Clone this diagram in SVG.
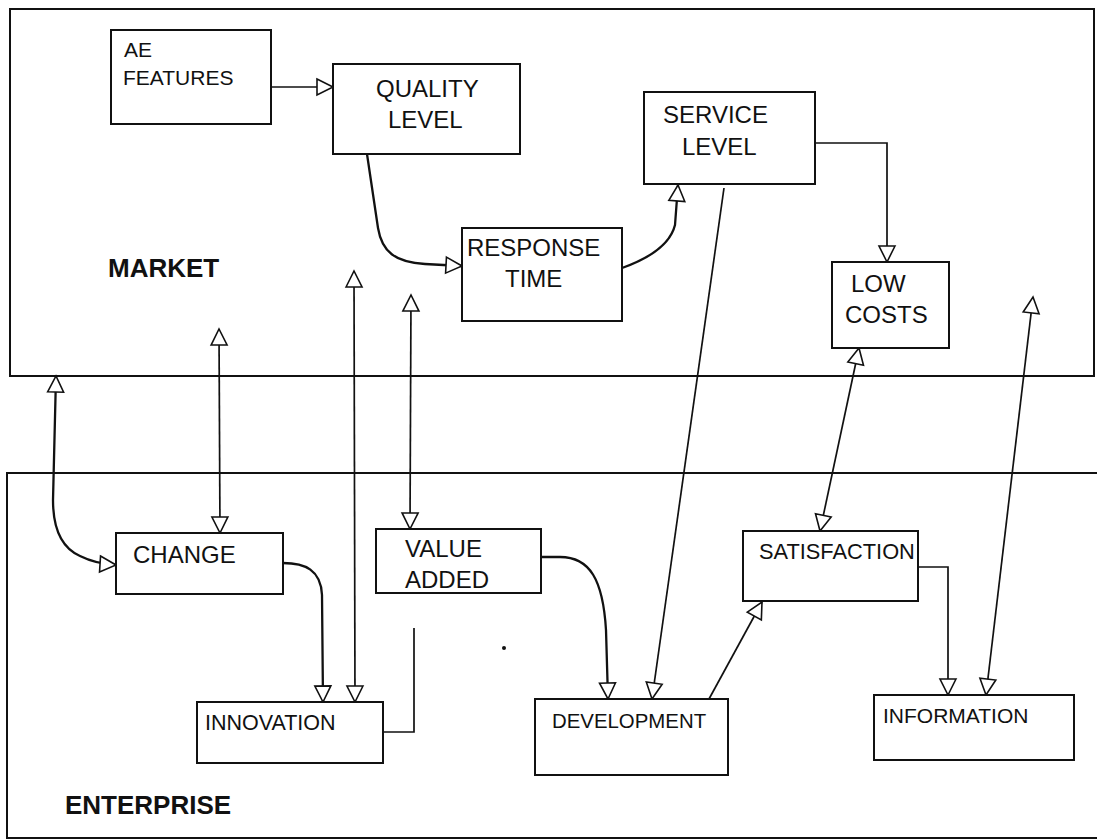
<svg xmlns="http://www.w3.org/2000/svg" width="1097" height="839" viewBox="0 0 1097 839">
<style>
.region{fill:none;stroke:#111;stroke-width:2}
.box{fill:#fff;stroke:#111;stroke-width:2}
.t{font-family:"Liberation Sans",Arial,sans-serif;font-size:24px;fill:#111}
.s{font-family:"Liberation Sans",Arial,sans-serif;font-size:21px;fill:#111}
.b{font-family:"Liberation Sans",Arial,sans-serif;font-size:26px;font-weight:bold;fill:#111}
.c{fill:none;stroke:#111;stroke-width:1.7}
.cv{fill:none;stroke:#111;stroke-width:2.3}
.a{marker-end:url(#tri)}
.aa{marker-start:url(#tri);marker-end:url(#tri)}
</style>
<defs>
<marker id="tri" markerUnits="userSpaceOnUse" markerWidth="20" markerHeight="20" refX="17" refY="9" orient="auto-start-reverse" overflow="visible">
<path d="M1,1 L17,9 L1,17 Z" fill="#fff" stroke="#111" stroke-width="1.6" stroke-linejoin="miter"/>
</marker>
</defs>
<rect width="1097" height="839" fill="#fff"/>
<g id="market">
<rect class="region" x="10" y="9" width="1084" height="367"/>
<text class="b" x="108" y="277">MARKET</text>
</g>
<g id="enterprise">
<rect class="region" x="7" y="473" width="1100" height="365"/>
<text class="b" x="65" y="814">ENTERPRISE</text>
</g>
<g id="connectors">
<path class="c a" d="M271,87 L333,87"/>
<path class="cv a" d="M367,154 L378,228 C382,252 395,262 425,264 L462,266"/>
<path class="cv a" d="M622,268 C650,258 670,245 675,225 L678,185"/>
<path class="c a" d="M815,143 L887,143 L887,262"/>
<path class="c a" d="M724,188 L652,699"/>
<path class="c aa" d="M859,348 L820,531"/>
<path class="c aa" d="M1033,297 L986,695"/>
<path class="c a" d="M918,567 L948,567 L948,695"/>
<path class="c a" d="M709,699 L762,602"/>
<path class="cv a" d="M541,557 L560,557 C590,557 603,580 606,630 L608,699"/>
<path class="cv a" d="M283,563 C305,563 321,570 322,595 L323,702"/>
<path class="c aa" d="M354,271 L355,702"/>
<path class="c aa" d="M411,295 L410,529"/>
<path class="c aa" d="M219,329 L220,533"/>
<path class="cv aa" d="M56,376 L53,500 C53,530 62,548 80,556 C90,561 100,564 116,565"/>
<path class="c" d="M414,628 L414,732 L383,732"/>
<circle cx="504" cy="648" r="2" fill="#111"/>
</g>
<g id="ae-features">
<rect class="box" x="111" y="30" width="160" height="94"/>
<text class="s" x="124" y="57">AE</text>
<text class="s" x="123" y="85">FEATURES</text>
</g>
<g id="quality-level">
<rect class="box" x="333" y="64" width="187" height="90"/>
<text class="t" x="376" y="97">QUALITY</text>
<text class="t" x="388" y="128">LEVEL</text>
</g>
<g id="response-time">
<rect class="box" x="462" y="228" width="160" height="93"/>
<text class="t" x="467" y="256">RESPONSE</text>
<text class="t" x="505" y="287">TIME</text>
</g>
<g id="service-level">
<rect class="box" x="644" y="92" width="171" height="92"/>
<text class="t" x="663" y="123">SERVICE</text>
<text class="t" x="682" y="155">LEVEL</text>
</g>
<g id="low-costs">
<rect class="box" x="832" y="262" width="117" height="86"/>
<text class="t" x="851" y="292">LOW</text>
<text class="t" x="845" y="323">COSTS</text>
</g>
<g id="change">
<rect class="box" x="116" y="533" width="167" height="61"/>
<text class="t" x="133" y="563">CHANGE</text>
</g>
<g id="value-added">
<rect class="box" x="376" y="529" width="165" height="64"/>
<text class="t" x="405" y="557">VALUE</text>
<text class="t" x="405" y="588">ADDED</text>
</g>
<g id="innovation">
<rect class="box" x="197" y="702" width="186" height="61"/>
<text class="s" x="205" y="730" style="font-size:21.5px">INNOVATION</text>
</g>
<g id="development">
<rect class="box" x="535" y="699" width="193" height="76"/>
<text class="s" x="552" y="728" style="font-size:20.4px">DEVELOPMENT</text>
</g>
<g id="satisfaction">
<rect class="box" x="743" y="531" width="175" height="70"/>
<text class="s" x="759" y="559" style="font-size:21.8px">SATISFACTION</text>
</g>
<g id="information">
<rect class="box" x="874" y="695" width="200" height="65"/>
<text class="s" x="883" y="723">INFORMATION</text>
</g>
</svg>
